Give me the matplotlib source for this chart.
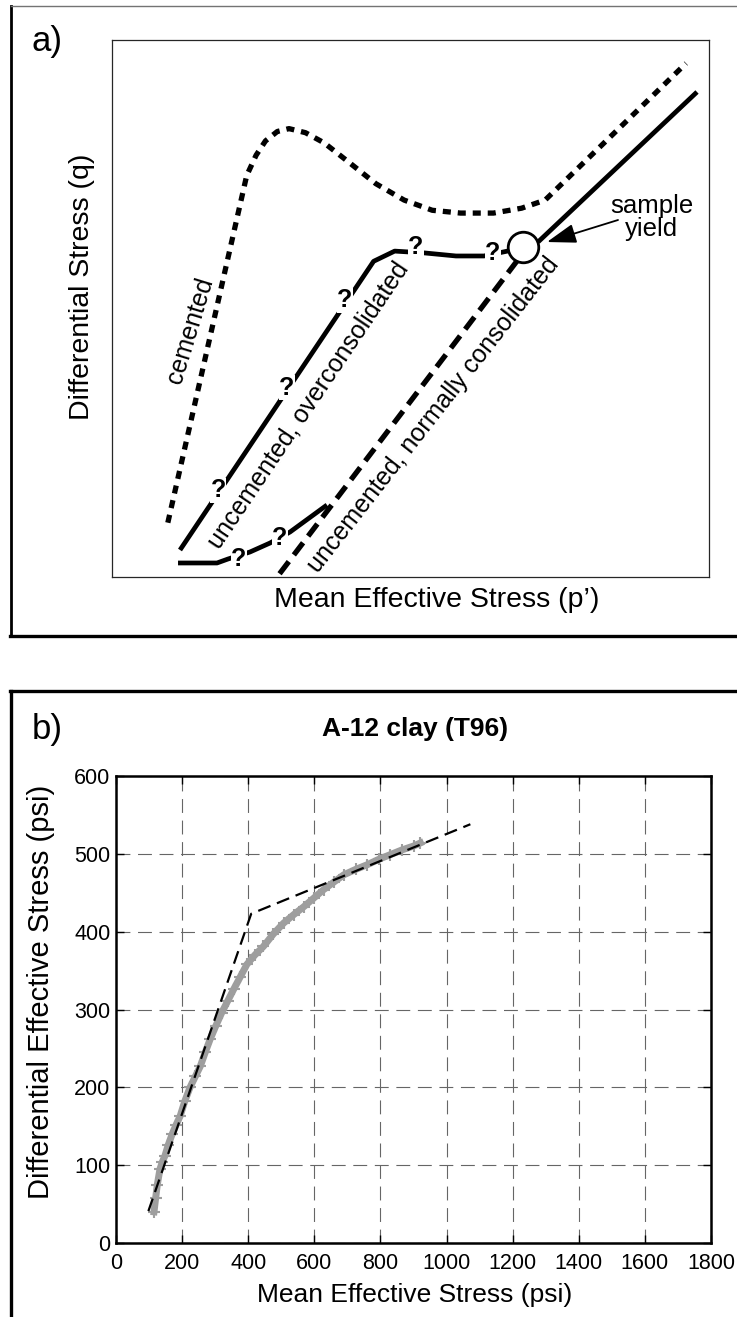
import matplotlib
matplotlib.use("Agg")
import matplotlib.pyplot as plt
from matplotlib.lines import Line2D

plt.rcParams['font.family'] = ['Liberation Sans', 'DejaVu Sans']
plt.rcParams['lines.scale_dashes'] = False

W, H = 737, 1317

# ---------------- panel a: conceptual stress paths (arbitrary units 0-100) ----------
cemented_p = [9.35, 22.56, 24.14, 25.71, 27.69, 29.65, 32.41, 35.54, 39.48, 44.20,
              48.93, 53.65, 58.38, 63.89, 68.61, 72.55, 96.16]
cemented_q = [10.11, 74.75, 78.55, 81.21, 82.96, 83.50, 82.74, 80.84, 77.41, 73.24,
              70.19, 68.29, 67.77, 67.77, 68.68, 70.19, 95.66]

overcons_p = [11.39, 43.82, 47.35, 52.43, 57.62, 62.31, 66.33]
overcons_q = [5.03, 58.79, 60.69, 60.34, 59.78, 59.78, 60.71]

lower_p = [11.06, 17.59, 19.43, 23.12, 26.47, 29.82, 36.01]
lower_q = [2.61, 2.61, 3.35, 4.66, 6.33, 8.38, 13.41]

normcons_p = [28.07, 67.84]
normcons_q = [0.61, 58.85]

yield_p, yield_q = 68.84, 61.45
postyield_p = [71.36, 97.99]
postyield_q = [62.38, 90.32]

qmark_p = [17.76, 29.31, 39.03, 50.92, 63.82, 21.27, 28.14]
qmark_q = [16.20, 35.20, 51.58, 61.45, 60.34, 3.35, 7.26]

# ---------------- panel b: A-12 clay (T96) -----------------------------------------
test_p = [115, 120, 125, 133, 140, 148, 158, 170, 182, 194, 208, 224, 240, 255, 270,
          285, 302, 320, 338, 356, 376, 396, 420, 446, 476, 507, 538, 568, 598, 628,
          660, 689, 725, 760, 795, 830, 865, 900, 921]
test_q = [40, 58, 75, 95, 104, 112, 126, 140, 152, 163, 182, 200, 214, 227, 245,
          262, 279, 296, 311, 326, 342, 358, 370, 381, 397, 411, 422, 432, 443, 454,
          464, 473, 480, 486, 493, 499, 505, 510, 514]
fit_p = [98, 409, 1072]
fit_q = [41, 423, 538]
xticks_b = [0, 200, 400, 600, 800, 1000, 1200, 1400, 1600, 1800]
yticks_b = [0, 100, 200, 300, 400, 500, 600]

fig = plt.figure(figsize=(W / 100, H / 100), dpi=100)


def fx(px):
    return px / W


def fy(py):
    return 1 - py / H


# panel frames
fig.add_artist(Line2D([fx(11), fx(11)], [fy(6), fy(636)], color='black', lw=2.0))
fig.add_artist(Line2D([fx(11), fx(737)], [fy(6), fy(6)], color='0.45', lw=1.0))
fig.add_artist(Line2D([fx(10), fx(737)], [fy(636), fy(636)], color='black', lw=2.4))
fig.add_artist(Line2D([fx(10), fx(737)], [fy(691), fy(691)], color='black', lw=2.4))
fig.add_artist(Line2D([fx(11), fx(11)], [fy(691), fy(1317)], color='black', lw=2.4))

# ---- panel a
axa = fig.add_axes([fx(112), fy(577), 597 / W, 537 / H])
axa.set_xlim(0, 100)
axa.set_ylim(0, 100)
axa.set_xticks([])
axa.set_yticks([])
for s in axa.spines.values():
    s.set_linewidth(0.9)
    s.set_color('0.15')

axa.plot(cemented_p, cemented_q, color='black', lw=3.8,
         linestyle=(0, (5.8, 5.0)), solid_capstyle='butt', dash_capstyle='butt', zorder=2)
axa.plot(overcons_p, overcons_q, color='black', lw=3.4, solid_capstyle='butt', zorder=2)
axa.plot(lower_p, lower_q, color='black', lw=3.4, solid_capstyle='butt', zorder=2)
axa.plot(normcons_p, normcons_q, color='black', lw=3.8,
         linestyle=(0, (11, 6)), dash_capstyle='butt', zorder=2)
axa.plot(postyield_p, postyield_q, color='black', lw=3.4, solid_capstyle='butt', zorder=2)
axa.plot([yield_p], [yield_q], marker='o', ms=22, mfc='white', mec='black', mew=2.0,
         zorder=5)

for p, q in zip(qmark_p, qmark_q):
    axa.text(p, q, '?', fontsize=18, fontweight='bold', ha='center', va='center',
             zorder=3, bbox=dict(boxstyle='square,pad=0.02', fc='white', ec='none'))

axa.text(13.07, 45.81, 'cemented', fontsize=18, rotation=73, ha='center', va='center',
         rotation_mode='anchor', zorder=4)
axa.text(32.83, 32.03, 'uncemented, overconsolidated', fontsize=18, rotation=56,
         ha='center', va='center', rotation_mode='anchor', zorder=4)
axa.text(53.85, 30.26, 'uncemented, normally consolidated', fontsize=18, rotation=52,
         ha='center', va='center', rotation_mode='anchor', zorder=4)

axa.text(90.4, 67.0, 'sample\nyield', fontsize=18.5, ha='center', va='center',
         linespacing=0.95, zorder=4)
axa.annotate('', xy=(72.86, 62.38), xytext=(84.76, 66.48),
             arrowprops=dict(arrowstyle='-|>,head_length=0.9,head_width=0.3',
                             mutation_scale=20, color='black', lw=1.3,
                             shrinkA=0, shrinkB=0), zorder=6)

fig.text(fx(47), fy(42), 'a)', fontsize=25, ha='center', va='center')
fig.text(fx(437), fy(600), 'Mean Effective Stress (p\u2019)', fontsize=20.5,
         ha='center', va='center')
fig.text(fx(82), fy(287), 'Differential Stress (q)', fontsize=20.5, rotation=90,
         ha='center', va='center')

# ---- panel b
axb = fig.add_axes([fx(116), fy(1243), 595 / W, 467 / H])
axb.set_xlim(0, 1800)
axb.set_ylim(0, 600)
axb.set_xticks(xticks_b)
axb.set_yticks(yticks_b)
axb.tick_params(direction='in', length=6, width=1, top=True, right=True,
                labelsize=15.5, pad=4)
axb.tick_params(axis='x', pad=7)
for s in axb.spines.values():
    s.set_linewidth(1.8)
axb.grid(True, color='0.4', lw=0.8, linestyle=(0, (10, 5.5)))
axb.set_axisbelow(True)

axb.plot(test_p, test_q, color='0.62', lw=5.0, marker='+', ms=8, mew=1.5, zorder=3)
axb.plot(fit_p, fit_q, color='black', lw=1.6, linestyle=(0, (9.5, 5)), zorder=4)

fig.text(fx(415), fy(729), 'A-12 clay (T96)', fontsize=19, fontweight='bold',
         ha='center', va='center')
fig.text(fx(47), fy(729), 'b)', fontsize=25, ha='center', va='center')
fig.text(fx(415), fy(1295), 'Mean Effective Stress (psi)', fontsize=19,
         ha='center', va='center')
fig.text(fx(41), fy(992), 'Differential Effective Stress (psi)', fontsize=21,
         rotation=90, ha='center', va='center')

fig.savefig('out.png', dpi=100)
